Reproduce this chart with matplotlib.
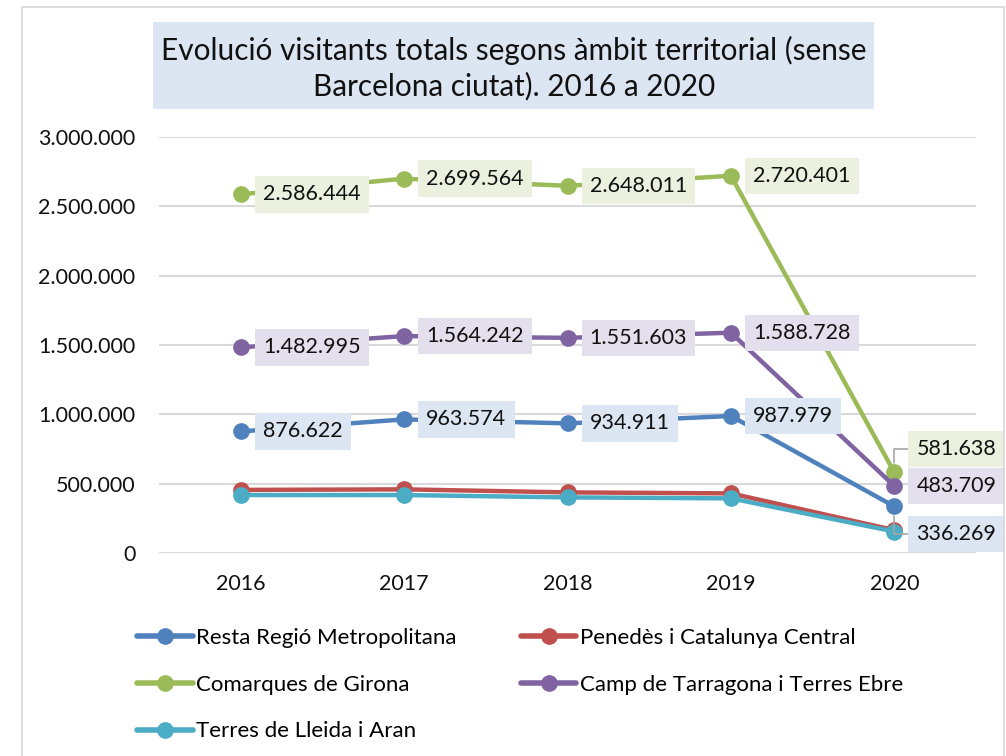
import matplotlib
matplotlib.use('Agg')
import matplotlib.pyplot as plt
from matplotlib.patches import Rectangle
from matplotlib.lines import Line2D

plt.rcParams['font.family'] = ['Lato', 'DejaVu Sans']

years = ['2016', '2017', '2018', '2019', '2020']
names = ['Resta Regió Metropolitana', 'Penedès i Catalunya Central',
         'Comarques de Girona', 'Camp de Tarragona i Terres Ebre',
         'Terres de Lleida i Aran']
resta = [876622, 963574, 934911, 987979, 336269]
penedes = [455000, 459000, 437000, 430000, 165000]
girona = [2586444, 2699564, 2648011, 2720401, 581638]
tarragona = [1482995, 1564242, 1551603, 1588728, 483709]
lleida = [418000, 418000, 401000, 394000, 155000]

series = [resta, penedes, girona, tarragona, lleida]
colors = ['#4f81bd', '#c0504d', '#9bbb59', '#8064a2', '#4bacc6']
label_bg = {0: '#dce6f2', 2: '#ebf1de', 3: '#e4dfec'}
# vertical offset (points) of the 2020 labels
last_dy = {0: -20, 2: 17, 3: 0}


def fmt(v):
    return f'{v:,}'.replace(',', '.')


W, H = 1006, 756
fig = plt.figure(figsize=(W / 100, H / 100), dpi=100)

# chart border
fig.add_artist(Rectangle((22 / W, -0.01), (1004 - 22) / W, 1 - 7 / H + 0.01,
                         transform=fig.transFigure, fill=False,
                         edgecolor='#d9d9d9', lw=1.2))

# title box
fig.add_artist(Rectangle((153 / W, 1 - 109 / H), (874 - 153) / W, 87 / H,
                         transform=fig.transFigure, facecolor='#dce6f2',
                         edgecolor='none'))
fig.text(514 / W, 1 - 68 / H,
         'Evolució visitants totals segons àmbit territorial (sense\nBarcelona ciutat). 2016 a 2020',
         ha='center', va='center', fontsize=21.4, linespacing=1.3, color='#111111')

ax = fig.add_axes([159 / W, 1 - 553 / H, (976 - 159) / W, (553 - 137) / H])
x = list(range(len(years)))
for i in [0, 1, 2, 3, 4]:
    ax.plot(x, series[i], color=colors[i], lw=3.2, marker='o', ms=11,
            solid_capstyle='round', zorder=3 + i, clip_on=False)

for i in [0, 2, 3]:
    for j, v in enumerate(series[i]):
        dy = last_dy[i] if j == 4 else 0
        arrow = None
        if j == 4 and dy != 0:
            arrow = dict(arrowstyle='-', color='#a6a6a6', lw=1.2,
                         connectionstyle='angle,angleA=0,angleB=90,rad=0',
                         shrinkA=0, shrinkB=7)
        ax.annotate(fmt(v), xy=(j, v), xytext=(16, dy), textcoords='offset points',
                    ha='left', va='center', fontsize=15.5, color='#111111',
                    bbox=dict(boxstyle='square,pad=0.38', facecolor=label_bg[i],
                              edgecolor='none'),
                    arrowprops=arrow, zorder=10, annotation_clip=False)

ax.set_xlim(-0.5, 4.5)
ax.set_ylim(0, 3000000)
ax.set_yticks(range(0, 3000001, 500000))
ax.set_yticklabels([fmt(v) for v in range(0, 3000001, 500000)])
ax.set_xticks(x)
ax.set_xticklabels(years)
ax.tick_params(length=0, labelsize=15.5, labelcolor='#111111')
ax.tick_params(axis='y', pad=17)
ax.tick_params(axis='x', pad=15)
ax.grid(axis='y', color='#d9d9d9', lw=1.5)
ax.set_axisbelow(True)
for s in ax.spines.values():
    s.set_visible(False)

handles = [Line2D([], [], color=colors[i], lw=4, marker='o', ms=11,
                  solid_capstyle='round') for i in range(5)]
order = [0, 2, 4, 1, 3]
fig.legend([handles[i] for i in order], [names[i] for i in order],
           loc='upper left', bbox_to_anchor=(137 / W, 1 - 628 / H), ncol=2,
           frameon=False, fontsize=16, handlelength=2.5, handletextpad=0.15,
           columnspacing=2.9, labelspacing=1.2, borderpad=0, borderaxespad=0)

fig.savefig('out.png', dpi=100)
